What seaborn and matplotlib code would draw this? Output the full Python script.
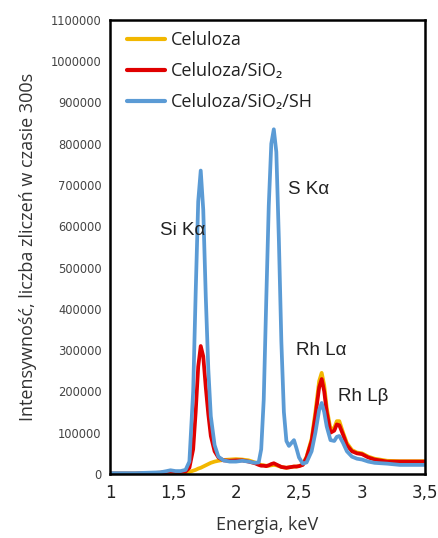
import matplotlib
matplotlib.use("Agg")
import matplotlib.pyplot as plt
import seaborn as sns
import pandas as pd
from matplotlib.ticker import FuncFormatter, MultipleLocator

# -------------------------------
# Data (energy in keV, counts in thousands)
# -------------------------------
energy = [1.00, 1.10, 1.20, 1.30, 1.40, 1.45, 1.48, 1.52, 1.56, 1.60,
          1.63, 1.66, 1.68, 1.70, 1.72, 1.74, 1.76, 1.78, 1.80, 1.83,
          1.86, 1.90, 1.95, 2.00, 2.05, 2.10, 2.15, 2.18, 2.20, 2.22,
          2.24, 2.26, 2.28, 2.30, 2.32, 2.34, 2.36, 2.38, 2.40, 2.42,
          2.44, 2.46, 2.48, 2.50, 2.53, 2.56, 2.60, 2.63, 2.66, 2.68,
          2.70, 2.72, 2.75, 2.78, 2.80, 2.82, 2.85, 2.88, 2.92, 2.96,
          3.00, 3.05, 3.10, 3.20, 3.30, 3.40, 3.50]

celuloza = [1, 1, 1, 2, 3, 4, 5, 4, 4, 3,
            5, 8, 10, 13, 15, 18, 21, 24, 27, 30,
            32, 34, 35, 36, 35, 33, 28, 24, 22, 21,
            20, 20, 21, 22, 21, 19, 17, 16, 15, 16,
            17, 18, 18, 19, 23, 42, 85, 150, 225, 245,
            215, 160, 108, 112, 128, 128, 100, 75, 58, 52,
            50, 42, 37, 32, 31, 31, 31]

celuloza_sio2 = [1, 1, 1, 2, 3, 5, 6, 5, 5, 6,
                 15, 60, 150, 260, 310, 285, 210, 145, 92, 55,
                 40, 33, 32, 33, 33, 30, 26, 22, 20, 20,
                 19, 21, 24, 26, 23, 20, 17, 16, 15, 16,
                 17, 18, 18, 19, 22, 40, 80, 140, 210, 230,
                 200, 150, 100, 105, 120, 118, 95, 70, 55, 50,
                 48, 40, 35, 30, 30, 30, 30]

celuloza_sio2_sh = [2, 2, 2, 3, 4, 7, 9, 7, 7, 10,
                    30, 200, 440, 660, 735, 640, 430, 255, 140, 70,
                    42, 33, 30, 30, 32, 30, 27, 28, 60, 180,
                    420, 650, 800, 835, 780, 570, 320, 150, 80, 68,
                    75, 82, 62, 40, 25, 28, 55, 100, 155, 172,
                    150, 115, 82, 80, 90, 92, 75, 55, 42, 37,
                    35, 30, 27, 25, 22, 22, 22]

series_names = ["Celuloza", "Celuloza/SiO\u2082", "Celuloza/SiO\u2082/SH"]
series_colors = ["#F2B700", "#E00000", "#5B9BD5"]

peak_labels = ["Si K\u03b1", "S K\u03b1", "Rh L\u03b1", "Rh L\u03b2"]
peak_x = [1.40, 2.41, 2.48, 2.81]
peak_y = [591000, 688000, 298000, 187000]

y_ticks = list(range(0, 1100001, 100000))

# -------------------------------
# Long table for seaborn
# -------------------------------
frames = []
for name, vals in zip(series_names, [celuloza, celuloza_sio2, celuloza_sio2_sh]):
    frames.append(pd.DataFrame({"Energia": energy,
                                "Intensywnosc": [v * 1000 for v in vals],
                                "Probka": name}))
df = pd.concat(frames, ignore_index=True)

# -------------------------------
# Plot
# -------------------------------
sns.set_style("white")
plt.rcParams["font.family"] = ["Open Sans", "DejaVu Sans"]

fig = plt.figure(figsize=(4.39, 5.38), dpi=100)
ax = fig.add_axes([0.2506, 0.119, 0.7175, 0.844])

sns.lineplot(data=df, x="Energia", y="Intensywnosc", hue="Probka",
             hue_order=series_names, palette=series_colors,
             linewidth=2.7, sort=False, ax=ax)

ax.set_xlim(1, 3.5)
ax.set_ylim(0, 1100000)
ax.xaxis.set_major_locator(MultipleLocator(0.5))
ax.set_yticks(y_ticks)
ax.xaxis.set_major_formatter(FuncFormatter(lambda v, p: f"{v:g}".replace(".", ",")))
ax.yaxis.set_major_formatter(FuncFormatter(lambda v, p: f"{int(v)}"))

for lab in ax.get_xticklabels():
    lab.set_fontfamily(["DejaVu Sans"])
    lab.set_fontsize(12)
    lab.set_color("#222222")
for lab in ax.get_yticklabels():
    lab.set_fontfamily(["DejaVu Sans"])
    lab.set_fontsize(8.3)
    lab.set_color("#444444")

ax.tick_params(axis="x", direction="inout", length=7, width=1.6, pad=4)
ax.tick_params(axis="y", direction="out", length=4, width=1.4, pad=2)

for sp in ax.spines.values():
    sp.set_visible(True)
    sp.set_color("black")
    sp.set_linewidth(1.8)

ax.set_xlabel("Energia, keV", fontsize=13, color="#333333", labelpad=10)
ax.set_ylabel("Intensywność, liczba zliczeń w czasie 300s", fontsize=13,
              color="#333333", labelpad=10)

for text, px, py in zip(peak_labels, peak_x, peak_y):
    ax.text(px, py, text, fontsize=13.5, family=["Liberation Sans"],
            color="#222222", ha="left", va="center")

leg = ax.legend(loc="upper left", bbox_to_anchor=(0.055, 0.975),
                frameon=False, fontsize=13, handlelength=2.1,
                handletextpad=0.3, labelspacing=0.72, borderaxespad=0,
                borderpad=0)
for line in leg.get_lines():
    line.set_linewidth(3)
for t in leg.get_texts():
    t.set_color("#222222")

fig.savefig("out.png", dpi=100)
